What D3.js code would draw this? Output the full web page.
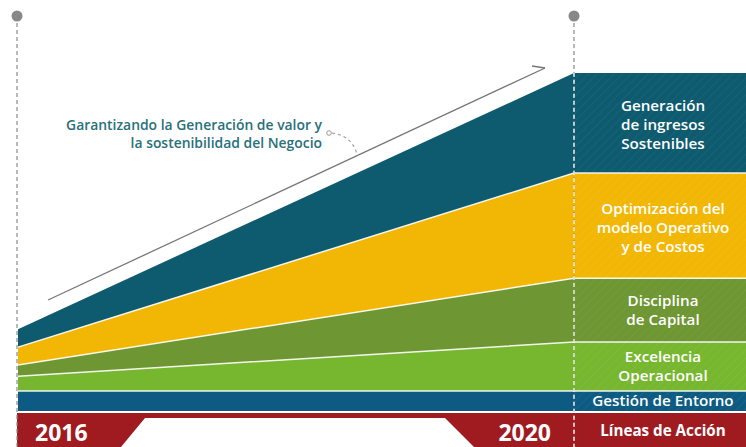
<!DOCTYPE html>
<html lang="es">
<head>
<meta charset="utf-8">
<title>Líneas de Acción 2016-2020</title>
<script src="https://d3js.org/d3.v7.min.js"></script>
<style>
  body { margin: 0; background: #fff; }
  svg { display: block; font-family: "Open Sans", sans-serif; }
</style>
</head>
<body>
<script>
// years on the x axis
var years = [2016, 2020];

// band thickness at 2016 and 2020 (share of 2020 total, bottom to top)
var gestion      = [5.9, 5.9];
var excelencia   = [4.4, 14.5];
var disciplina   = [3.3, 18.9];
var optimizacion = [5.3, 31.1];
var generacion   = [5.3, 29.6];

var keys   = ["gestion", "excelencia", "disciplina", "optimizacion", "generacion"];
var colors = ["#0d5b82", "#77b72f", "#6e9633", "#f2b705", "#0e5a6e"];
var labels = [
  ["Gestión de Entorno"],
  ["Excelencia", "Operacional"],
  ["Disciplina", "de Capital"],
  ["Optimización del", "modelo Operativo", "y de Costos"],
  ["Generación", "de ingresos", "Sostenibles"]
];
var note = ["Garantizando la Generación de valor y", "la sostenibilidad del Negocio"];
var footer = "Líneas de Acción";

var w = 746, h = 447;

var table = years.map(function (y, i) {
  return { year: y, gestion: gestion[i], excelencia: excelencia[i], disciplina: disciplina[i],
           optimizacion: optimizacion[i], generacion: generacion[i] };
});
var series = d3.stack().keys(keys)(table);

var x = d3.scaleLinear().domain([2016, 2020]).range([18, 574]);
var y = d3.scaleLinear().domain([0, 100]).range([411, 73]);

var svg = d3.select("body").append("svg").attr("width", w).attr("height", h);

var defs = svg.append("defs");
var pat = defs.append("pattern").attr("id", "hatch").attr("patternUnits", "userSpaceOnUse")
  .attr("width", 6).attr("height", 6).attr("patternTransform", "rotate(45)");
pat.append("line").attr("x1", 0).attr("y1", 0).attr("x2", 0).attr("y2", 6)
  .attr("stroke", "#fff").attr("stroke-width", 1).attr("stroke-opacity", 0.09);

// stacked bands
var area = d3.area().x(function (d) { return x(d.data.year); })
  .y0(function (d) { return y(d[0]); }).y1(function (d) { return y(d[1]); });

svg.selectAll("path.band").data(series).enter().append("path").attr("class", "band")
  .attr("d", area).attr("fill", function (d, i) { return colors[i]; });

// flat panel on the right
var xr = x(2020);
svg.selectAll("rect.panel").data(series).enter().append("rect").attr("class", "panel")
  .attr("x", xr).attr("width", w - xr)
  .attr("y", function (d) { return y(d[1][1]); })
  .attr("height", function (d) { return y(d[1][0]) - y(d[1][1]); })
  .attr("fill", function (d, i) { return colors[i]; });
svg.selectAll("rect.hatch").data(series).enter().append("rect").attr("class", "hatch")
  .attr("x", xr).attr("width", w - xr)
  .attr("y", function (d) { return y(d[1][1]); })
  .attr("height", function (d) { return y(d[1][0]) - y(d[1][1]); })
  .attr("fill", "url(#hatch)");

// white separators on the band edges
var edge = d3.line().x(function (d) { return d[0]; }).y(function (d) { return d[1]; });
series.slice(0, -1).forEach(function (s) {
  var pts = s.map(function (d) { return [x(d.data.year), y(d[1])]; });
  pts.push([w, y(s[1][1])]);
  svg.append("path").attr("d", edge(pts)).attr("fill", "none")
    .attr("stroke", "#fff").attr("stroke-width", 1.5).attr("stroke-opacity", 0.9);
});

// panel labels
series.forEach(function (s, i) {
  var cy = (y(s[1][0]) + y(s[1][1])) / 2;
  var lines = labels[i];
  var lh = 19;
  var t = svg.append("text").attr("x", 663).attr("text-anchor", "middle")
    .attr("fill", "#fff").attr("font-size", 15.2).attr("font-weight", 600);
  lines.forEach(function (l, j) {
    t.append("tspan").attr("x", 663)
      .attr("y", cy + (j - (lines.length - 1) / 2) * lh + 5 + (lines.length === 3 ? 2 : 0))
      .text(l);
  });
});

// bottom red bar with white cut
svg.append("rect").attr("x", 17).attr("y", 413).attr("width", w - 17).attr("height", h - 413)
  .attr("fill", "#a01b1f");
svg.append("polygon").attr("points", "145,418 445,418 474,447 121,447").attr("fill", "#fff");
svg.append("text").attr("x", 35).attr("y", 441).attr("fill", "#fff")
  .attr("font-size", 23).attr("font-weight", 700).text(years[0]);
svg.append("text").attr("x", 551).attr("y", 441).attr("text-anchor", "end").attr("fill", "#fff")
  .attr("font-size", 23).attr("font-weight", 700).text(years[1]);
svg.append("text").attr("x", 663).attr("y", 436).attr("text-anchor", "middle").attr("fill", "#fff")
  .attr("font-size", 15.2).attr("font-weight", 700).text(footer);

// timeline markers
[[17, "#8c8c8c"], [574, "#8c8c8c"]].forEach(function (m) {
  svg.append("line").attr("x1", m[0]).attr("x2", m[0]).attr("y1", 16).attr("y2", h)
    .attr("stroke", m[1]).attr("stroke-width", 1.2).attr("stroke-dasharray", "4,3");
  svg.append("circle").attr("cx", m[0]).attr("cy", 16).attr("r", 5.5).attr("fill", "#888");
});
// white dashes over the colored part at 2020
svg.append("line").attr("x1", xr).attr("x2", xr).attr("y1", y(100)).attr("y2", h)
  .attr("stroke", "#fff").attr("stroke-width", 1.2).attr("stroke-dasharray", "4,3");

// growth arrow
svg.append("line").attr("x1", 48).attr("y1", 300).attr("x2", 545).attr("y2", 68)
  .attr("stroke", "#777").attr("stroke-width", 1.3);
svg.append("line").attr("x1", 532).attr("y1", 66).attr("x2", 545).attr("y2", 68)
  .attr("stroke", "#777").attr("stroke-width", 1.3);

// annotation
var nt = svg.append("text").attr("text-anchor", "end").attr("fill", "#28707a")
  .attr("font-size", 13.9).attr("font-weight", 600);
note.forEach(function (l, i) {
  nt.append("tspan").attr("x", 322).attr("y", 130 + i * 18).text(l);
});
svg.append("circle").attr("cx", 329).attr("cy", 133).attr("r", 2.3)
  .attr("fill", "#fff").attr("stroke", "#999").attr("stroke-width", 1);
svg.append("path").attr("d", "M332,133 Q352,136 357,154").attr("fill", "none")
  .attr("stroke", "#999").attr("stroke-width", 1.1).attr("stroke-dasharray", "3,3");
</script>
</body>
</html>
